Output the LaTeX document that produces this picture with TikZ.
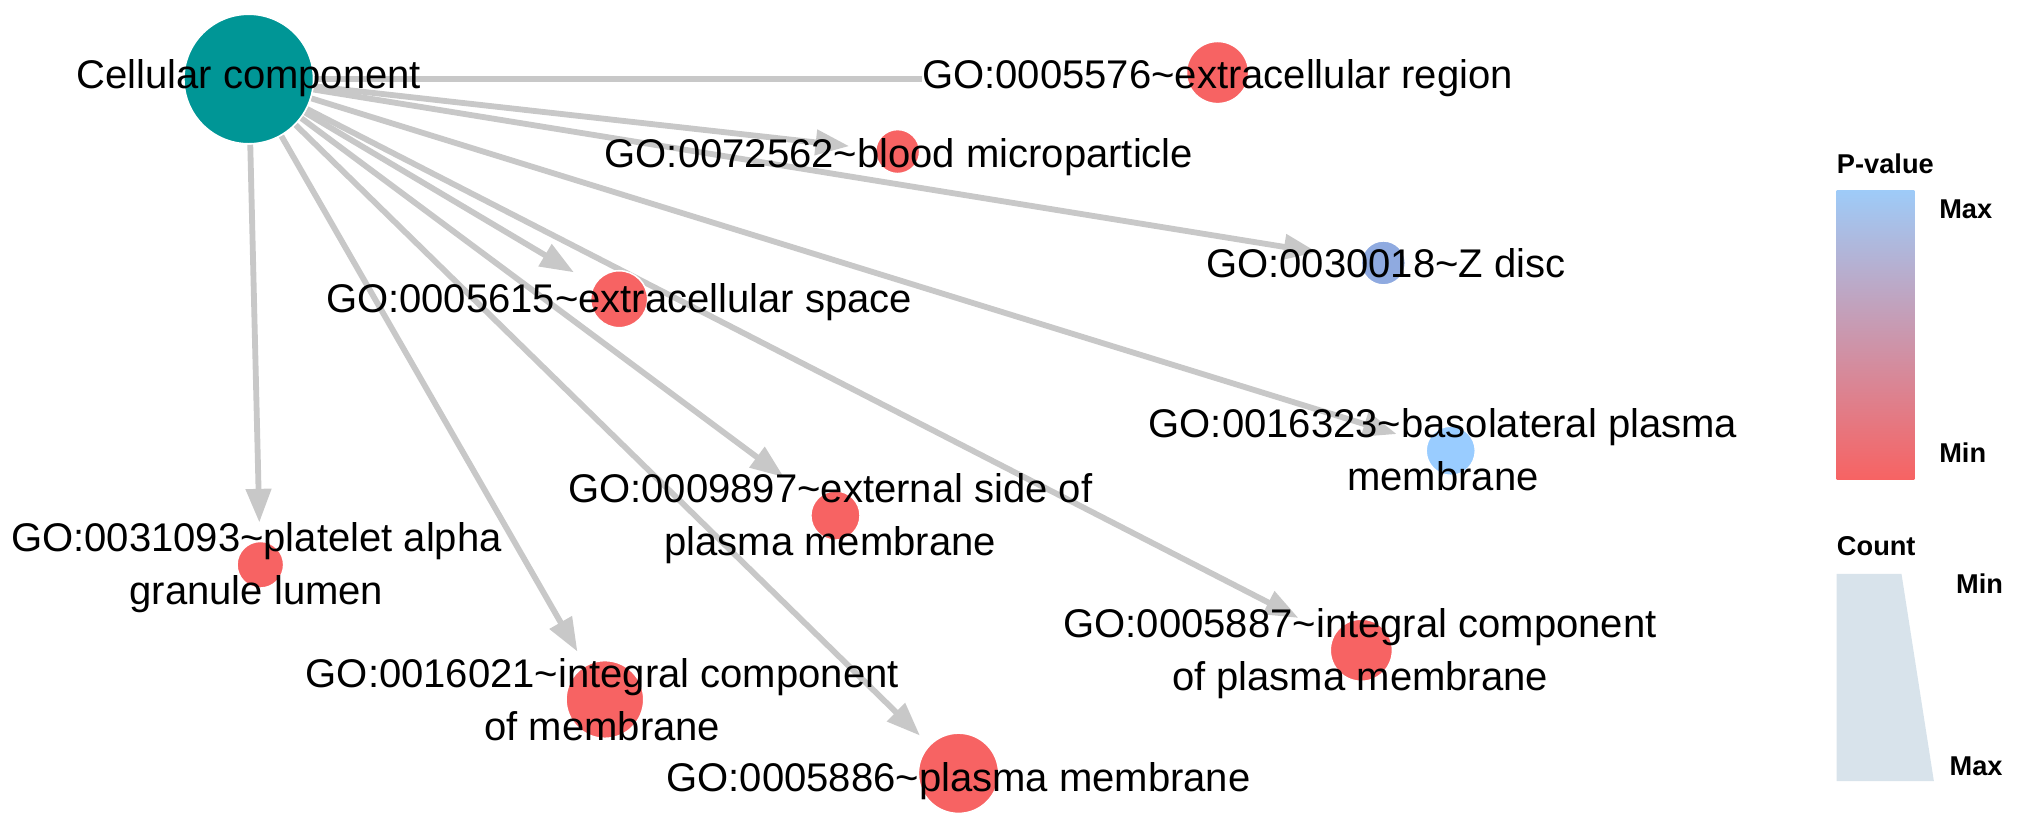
\documentclass[tikz,border=0pt]{standalone}
\usepackage{fontspec}
\setmainfont{Liberation Sans}
\usetikzlibrary{arrows.meta}
\definecolor{teal0}{RGB}{0,150,150}
\definecolor{red0}{RGB}{247,99,99}
\definecolor{zblue}{RGB}{143,170,224}
\definecolor{lblue}{RGB}{153,204,255}
\definecolor{edgec}{RGB}{200,200,200}
\definecolor{pmax}{RGB}{158,203,248}
\definecolor{cntc}{RGB}{216,227,235}
\pgfdeclarelayer{bg}
\pgfsetlayers{bg,main}
\begin{document}
\begin{tikzpicture}[x=1pt,y=-1pt,
 term/.style={circle, fill=red0, draw=white, line width=1.2pt, inner sep=0pt, minimum size=#1},
 lbl/.style={font=\fontsize{30.9}{41}\selectfont, inner sep=0pt, align=center, anchor=base},
 edge/.style={draw=edgec, line width=4.5pt, -{Triangle[length=26pt,width=19pt]}},
 plainedge/.style={draw=edgec, line width=4.5pt},
 leg/.style={font=\fontsize{21}{25}\selectfont\bfseries, inner sep=0pt, anchor=base west}]
\useasboundingbox (0,0) rectangle (1568,638);
% term circles
\node[term=100pt, fill=teal0] (cc) at (192,61) {};
\node[term=48pt] (n5576) at (940,56) {};
\node[term=34pt] (n72562) at (693,117) {};
\node[term=34pt, fill=zblue] (n30018) at (1068,203) {};
\node[term=44pt] (n5615) at (478,231) {};
\node[term=38pt, fill=lblue] (n16323) at (1120,348) {};
\node[term=38pt] (n9897) at (645,398) {};
\node[term=36pt] (n31093) at (201,436) {};
\node[term=48pt] (n5887) at (1051,502) {};
\node[term=60pt] (n16021) at (467,540) {};
\node[term=62pt] (n5886) at (740,597) {};
% labels (multi-line labels: anchor at the baseline of the last line)
\node[lbl] (lcc) at (192,68) {Cellular component};
\node[lbl] (l5576) at (940,68) {GO:0005576\textasciitilde extracellular region};
\node[lbl] (l72562) at (694,129) {GO:0072562\textasciitilde blood microparticle};
\node[lbl] (l30018) at (1070,214) {GO:0030018\textasciitilde Z disc};
\node[lbl] (l5615) at (478,241) {GO:0005615\textasciitilde extracellular space};
\node[lbl] (l16323) at (1114,379) {GO:0016323\textasciitilde basolateral plasma\\membrane};
\node[lbl] (l9897) at (641,429) {GO:0009897\textasciitilde external side of\\plasma membrane};
\node[lbl] (l31093) at (198,467) {GO:0031093\textasciitilde platelet alpha\\granule lumen};
\node[lbl] (l16021) at (465,572) {GO:0016021\textasciitilde integral component\\of membrane};
\node[lbl] (l5887) at (1050,533) {GO:0005887\textasciitilde integral component\\of plasma membrane};
\node[lbl] (l5886) at (740,611) {GO:0005886\textasciitilde plasma membrane};
% edges
\begin{pgfonlayer}{bg}
\draw[plainedge] (cc) -- (l5576.west |- cc.east);
\draw[edge, shorten >=20pt] (cc) -- (n72562);
\draw[edge, shorten >=34pt] (cc) -- (n30018);
\draw[edge, shorten >=18pt] (cc) -- (n5615);
\draw[edge, shorten >=24pt] (cc) -- (n16323);
\draw[edge, shorten >=30pt] (cc) -- (n9897);
\draw[edge, shorten >=14pt] (cc) -- (n31093);
\draw[edge, shorten >=30pt] (cc) -- (n5887);
\draw[edge, shorten >=12pt] (cc) -- (n16021);
\draw[edge, shorten >=10pt] (cc) -- (n5886);
\end{pgfonlayer}
% legend
\node[leg] (pv) at (1418,134) {P-value};
\shade[top color=pmax, bottom color=red0] (1418,147) rectangle (1478,370);
\node[leg] (pmaxl) at (1497,169) {Max};
\node[leg] (pminl) at (1497,357) {Min};
\node[leg] (cnt) at (1418,429) {Count};
\fill[cntc] (1418,443) -- (1468,443) -- (1493,603) -- (1418,603) -- cycle;
\node[leg] (cminl) at (1510,458) {Min};
\node[leg] (cmaxl) at (1505,599) {Max};
\end{tikzpicture}
\end{document}
